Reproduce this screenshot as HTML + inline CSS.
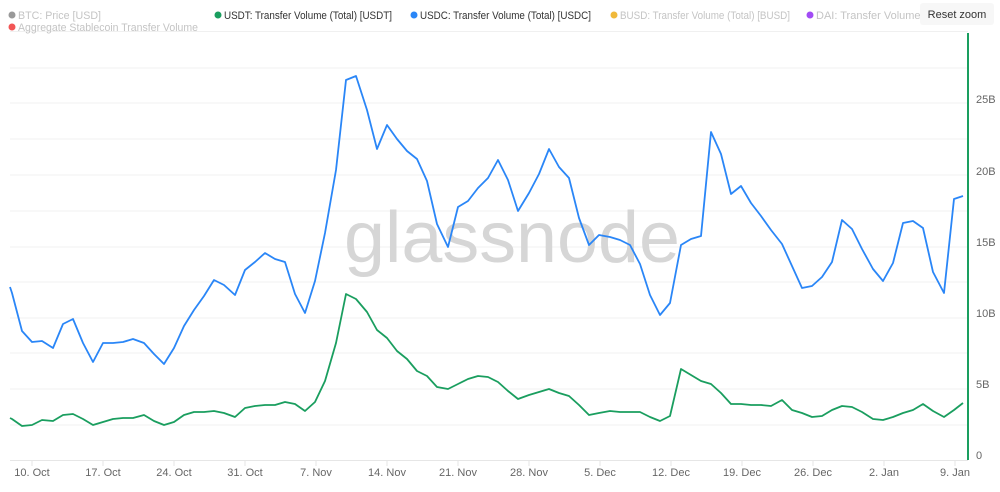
<!DOCTYPE html>
<html><head><meta charset="utf-8"><style>
html,body{margin:0;padding:0;background:#fff;}
svg{display:block;font-family:"Liberation Sans",sans-serif;}
</style></head><body>
<svg width="1000" height="492" viewBox="0 0 1000 492">
<rect width="1000" height="492" fill="#fff"/>
<g stroke="#f0f0f0" stroke-width="1">
<line x1="10" x2="968" y1="31.5" y2="31.5"/>
<line x1="10" x2="968" y1="68" y2="68"/>
<line x1="10" x2="968" y1="103" y2="103"/>
<line x1="10" x2="968" y1="139" y2="139"/>
<line x1="10" x2="968" y1="175" y2="175"/>
<line x1="10" x2="968" y1="211" y2="211"/>
<line x1="10" x2="968" y1="247" y2="247"/>
<line x1="10" x2="968" y1="282" y2="282"/>
<line x1="10" x2="968" y1="318" y2="318"/>
<line x1="10" x2="968" y1="353" y2="353"/>
<line x1="10" x2="968" y1="389" y2="389"/>
<line x1="10" x2="968" y1="425" y2="425"/>
</g>
<line x1="10" x2="968" y1="460.5" y2="460.5" stroke="#e6e6e6"/>
<g stroke="#e6e6e6">
<line x1="32" x2="32" y1="460" y2="466"/><line x1="103" x2="103" y1="460" y2="466"/><line x1="174" x2="174" y1="460" y2="466"/><line x1="245" x2="245" y1="460" y2="466"/><line x1="316" x2="316" y1="460" y2="466"/><line x1="387" x2="387" y1="460" y2="466"/><line x1="458" x2="458" y1="460" y2="466"/><line x1="529" x2="529" y1="460" y2="466"/><line x1="600" x2="600" y1="460" y2="466"/><line x1="671" x2="671" y1="460" y2="466"/><line x1="742" x2="742" y1="460" y2="466"/><line x1="813" x2="813" y1="460" y2="466"/><line x1="884" x2="884" y1="460" y2="466"/><line x1="955" x2="955" y1="460" y2="466"/>
</g>
<text x="512" y="262" font-size="72" fill="#d6d6d6" text-anchor="middle" textLength="336" lengthAdjust="spacingAndGlyphs">glassnode</text>
<polyline fill="none" stroke="#2a86f7" stroke-width="1.8" stroke-linejoin="round" points="10,287 12,293 22,331 32,342 42,341 53,348 63,324 73,319 83,343 93,362 103,343 113,343 123,342 133,339 144,343 154,354 164,364 174,348 184,326 194,310 204,296 214,280 224,285 235,295 245,270 255,262 265,253 275,259 285,262 295,294 305,313 315,281 325,233 336,170 346,80 356,76 367,110 377,149 387,125 397,139 407,151 417,159 427,181 437,224 448,247 458,207 468,201 478,188 488,178 498,160 508,180 518,211 529,193 539,174 549,149 559,167 569,178 579,218 589,245 599,235 610,237 620,240 630,245 640,264 650,295 660,315 670,303 681,245 691,239 701,236 711,132 721,154 731,194 741,186 751,203 761,216 771,230 782,244 792,266 802,288 812,286 822,277 832,262 842,220 852,229 862,249 873,269 883,281 893,263 903,223 913,221 923,228 933,272 944,293 954,199 963,196"/>
<polyline fill="none" stroke="#1a9e5f" stroke-width="1.8" stroke-linejoin="round" points="10,418 12,419 22,426 32,425 42,420 53,421 63,415 73,414 83,419 93,425 103,422 113,419 123,418 133,418 144,415 154,421 164,425 174,422 184,415 194,412 204,412 214,411 224,413 235,417 245,408 255,406 265,405 275,405 285,402 295,404 305,411 315,402 325,381 336,343 346,294 356,299 367,312 377,330 387,338 397,351 407,359 417,371 427,376 437,387 448,389 458,384 468,379 478,376 488,377 498,382 508,391 518,399 529,395 539,392 549,389 559,393 569,396 579,405 589,415 599,413 610,411 620,412 630,412 640,412 650,417 660,421 670,416 681,369 691,375 701,381 711,384 721,393 731,404 741,404 751,405 761,405 771,406 782,400 792,410 802,413 812,417 822,416 832,410 842,406 852,407 862,412 873,419 883,420 893,417 903,413 913,410 923,404 933,411 944,417 954,410 963,403"/>
<line x1="968" x2="968" y1="33" y2="460" stroke="#1a9e5f" stroke-width="2"/>
<g font-size="11" fill="#666">
<text x="976" y="459">0</text><text x="976" y="388">5B</text><text x="976" y="317">10B</text><text x="976" y="246">15B</text><text x="976" y="175">20B</text><text x="976" y="103">25B</text>
</g>
<g font-size="11" fill="#666" text-anchor="middle">
<text x="32" y="476">10. Oct</text><text x="103" y="476">17. Oct</text><text x="174" y="476">24. Oct</text><text x="245" y="476">31. Oct</text><text x="316" y="476">7. Nov</text><text x="387" y="476">14. Nov</text><text x="458" y="476">21. Nov</text><text x="529" y="476">28. Nov</text><text x="600" y="476">5. Dec</text><text x="671" y="476">12. Dec</text><text x="742" y="476">19. Dec</text><text x="813" y="476">26. Dec</text><text x="884" y="476">2. Jan</text><text x="955" y="476">9. Jan</text>
</g>
<g font-size="11">
<circle cx="12" cy="15" r="3.5" fill="#999"/><text x="18" y="19" fill="#c4c4c4" textLength="83" lengthAdjust="spacingAndGlyphs">BTC: Price [USD]</text>
<circle cx="218" cy="15" r="3.5" fill="#1a9e5f"/><text x="224" y="19" fill="#333" textLength="168" lengthAdjust="spacingAndGlyphs">USDT: Transfer Volume (Total) [USDT]</text>
<circle cx="414" cy="15" r="3.5" fill="#2a86f7"/><text x="420" y="19" fill="#333" textLength="171" lengthAdjust="spacingAndGlyphs">USDC: Transfer Volume (Total) [USDC]</text>
<circle cx="614" cy="15" r="3.5" fill="#f0b93a"/><text x="620" y="19" fill="#c4c4c4" textLength="170" lengthAdjust="spacingAndGlyphs">BUSD: Transfer Volume (Total) [BUSD]</text>
<circle cx="810" cy="15" r="3.5" fill="#a24cf5"/><text x="816" y="19" fill="#c4c4c4">DAI: Transfer Volume (Total) [DAI]</text>
<circle cx="12" cy="27" r="3.5" fill="#f25555"/><text x="18" y="31" fill="#c4c4c4" textLength="180" lengthAdjust="spacingAndGlyphs">Aggregate Stablecoin Transfer Volume</text>
</g>
<rect x="920" y="3" width="74" height="22" rx="3" fill="#f7f7f7"/>
<text x="957" y="18" font-size="11" fill="#333" text-anchor="middle">Reset zoom</text>
</svg>
</body></html>
